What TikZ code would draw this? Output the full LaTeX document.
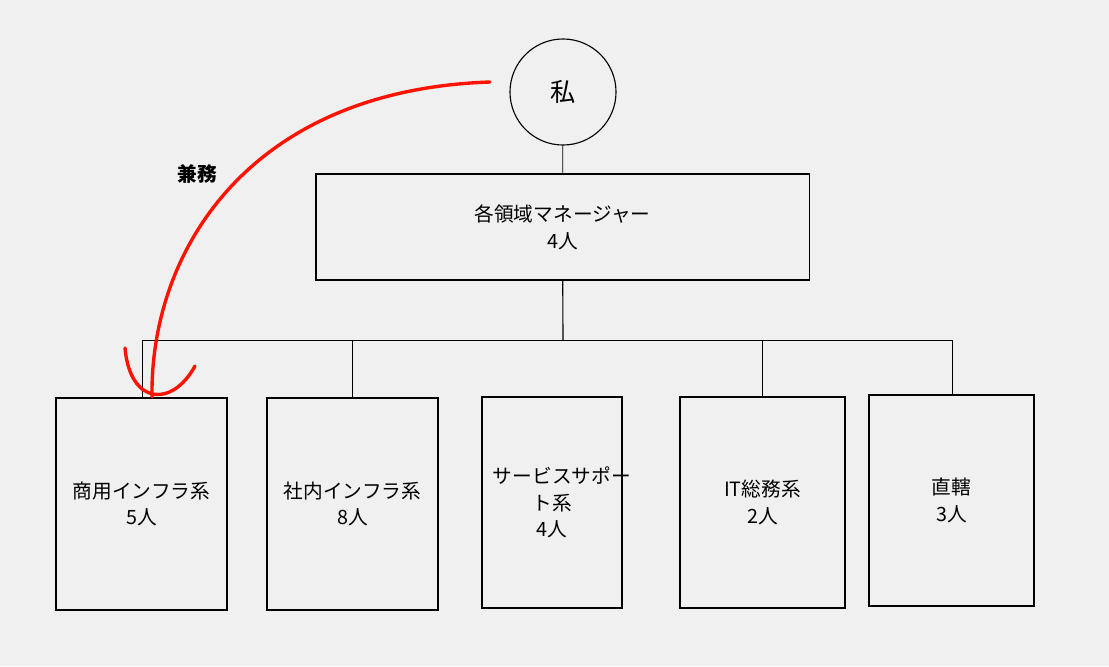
\documentclass[tikz,border=0pt]{standalone}
\usepackage{fontspec}
\setmainfont{Noto Sans CJK JP}
\tikzset{
  unit/.style={draw, thick, minimum width=#1, inner sep=0pt, align=center, font=\fontsize{14}{19}\selectfont},
  link/.style={draw, line width=0.6pt},
  concur/.style={draw=red!85!orange, line width=2.4pt, line cap=round}
}
\begin{document}
\begin{tikzpicture}[x=0.025cm, y=-0.025cm]
  \fill[black!6] (0,0) rectangle (1109,666);
  \useasboundingbox (0,0) rectangle (1109,666);
  \node[draw, thick, circle, minimum size=2.65cm, font=\fontsize{18}{20}\selectfont] (me) at (563,92) {私};
  \node[unit, minimum width=12.325cm, minimum height=2.65cm] (mgr) at (562.5,227) {各領域マネージャー\\4人};
  \node[unit, minimum width=4.275cm, minimum height=5.3cm] (g1) at (141.5,504) {商用インフラ系\\5人};
  \node[unit, minimum width=4.275cm, minimum height=5.3cm] (g2) at (352.5,504) {社内インフラ系\\8人};
  \node[unit, minimum width=3.5cm, minimum height=5.275cm] (g3) at (552,502.5) {サービスサポ\rlap{ー}\\ト系\\4人};
  \node[unit, minimum width=4.125cm, minimum height=5.275cm] (g4) at (762.5,502.5) {IT総務系\\2人};
  \node[unit, minimum width=4.125cm, minimum height=5.275cm] (g5) at (951.5,500.5) {直轄\\3人};
  \coordinate (bus) at (563,340);
  \coordinate (bl) at (142,340);
  \coordinate (br) at (952,340);
  \draw[link] (me) -- (mgr);
  \draw[link, thick] (mgr) -- (bus);
  \draw[link] (bl) -- (br);
  \draw[link] (bl) -- (bl |- g1.north);
  \draw[link] (g2.north |- bus) -- (g2.north);
  \draw[link] (g4.north |- bus) -- (g4.north);
  \draw[link] (br) -- (br |- g5.north);
  % concurrent duty
  \coordinate (cs) at (490,82);
  \coordinate (ce) at (152,397);
  \draw[concur] (cs) .. controls (250,90) and (150,250) .. (ce);
  \draw[concur] (125,348) .. controls (130,405) and (172,408) .. (195,366);
  \node[font=\bfseries\fontsize{14}{16}\selectfont] (duty) at (197,174) {兼務};
\end{tikzpicture}
\end{document}
